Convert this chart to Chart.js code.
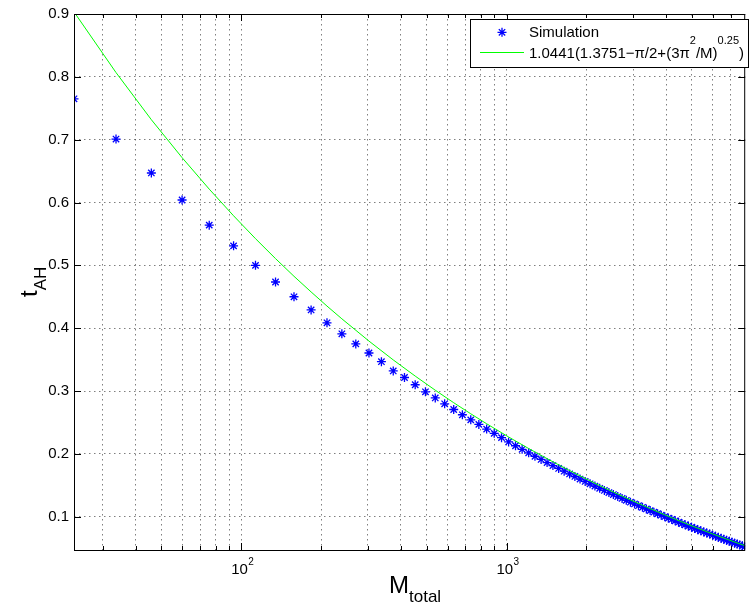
<!DOCTYPE html>
<html>
<head>
<meta charset="utf-8">
<script src="https://cdn.jsdelivr.net/npm/chart.js@4/dist/chart.umd.min.js"></script>
<style>
  html, body { margin: 0; padding: 0; background: #fff; }
  #wrap { width: 751px; height: 605px; position: relative; }
</style>
</head>
<body>
<div id="wrap"><canvas id="c" width="751" height="605"></canvas></div>
<script>
// ---- data ----
const simM = [23.4, 33.7, 45.8, 59.8, 75.7, 93.5, 113.1, 134.6, 158.0, 183.3,
  210.4, 239.4, 270.2, 302.9, 337.5, 374, 412.3, 452.5, 494.6, 538.6,
  584.4, 632.1, 681.6, 733, 786.3, 841.5, 898.5, 957.4, 1018, 1081,
  1145, 1212, 1280, 1350, 1422, 1496, 1572, 1649, 1729, 1810,
  1893, 1979, 2065, 2154, 2245, 2338, 2432, 2528, 2626, 2727,
  2828, 2932, 3038, 3145, 3255, 3366, 3479, 3594, 3711, 3830,
  3950, 4073, 4197, 4323, 4452, 4582, 4713, 4847, 4983, 5120,
  5259, 5401, 5544, 5689, 5835, 5984, 6135, 6287, 6441, 6597,
  6755, 6915, 7077, 7241, 7406, 7574, 7743, 7914];
const simT = [0.765, 0.701, 0.647, 0.604, 0.564, 0.531, 0.500, 0.4735, 0.450, 0.429,
  0.4086, 0.391, 0.375, 0.3605, 0.3467, 0.332, 0.3215, 0.310, 0.2987, 0.289,
  0.2797, 0.2706, 0.2622, 0.2541, 0.2469, 0.2394, 0.2326, 0.2258, 0.2190, 0.2129,
  0.2072, 0.2016, 0.1962, 0.1911, 0.1861, 0.1814, 0.1768, 0.1724, 0.1681, 0.1640,
  0.1599, 0.1561, 0.1523, 0.1487, 0.1451, 0.1418, 0.1384, 0.1352, 0.1320, 0.1290,
  0.1260, 0.1231, 0.1203, 0.1175, 0.1149, 0.1123, 0.1097, 0.1072, 0.1047, 0.1024,
  0.1000, 0.0978, 0.0956, 0.0934, 0.0913, 0.0891, 0.0871, 0.0851, 0.0832, 0.0812,
  0.0794, 0.0775, 0.0758, 0.0739, 0.0723, 0.0705, 0.0688, 0.0672, 0.0656, 0.0640,
  0.0625, 0.0609, 0.0594, 0.0579, 0.0564, 0.0550, 0.0536, 0.0522];
const fitM = [23.4, 33.7, 45.8, 59.8, 75.7, 93.5, 113.1, 134.6, 158, 183.3,
  210.4, 239.4, 302.9, 374, 452.5, 538.6, 632.1, 733, 841.5, 1018,
  1212, 1496, 1810, 2154, 2528, 2932, 3366, 3950, 4582, 5259,
  5984, 6915, 7914];
const fitT = [0.9034, 0.8068, 0.7318, 0.6714, 0.6213, 0.5789, 0.5425, 0.5107, 0.4826, 0.4577,
  0.4352, 0.4149, 0.3795, 0.3495, 0.3238, 0.3013, 0.2814, 0.2638, 0.2479, 0.2269,
  0.2085, 0.1873, 0.1691, 0.1532, 0.1392, 0.1267, 0.1155, 0.1029, 0.0917, 0.0817,
  0.0726, 0.0628, 0.0539];
const yTickValues = [0.1, 0.2, 0.3, 0.4, 0.5, 0.6, 0.7, 0.8, 0.9];
const xTickValues = [30, 40, 50, 60, 70, 80, 90, 100, 200, 300, 400, 500, 600, 700, 800, 900,
  1000, 2000, 3000, 4000, 5000, 6000, 7000];
const xLabelValues = [100, 1000];
const xLabelBases = ['10', '10'];
const xLabelExps = ['2', '3'];
const xRange = [23.4, 7940];
const yRange = [0.047, 0.9];
const seriesNames = ['Simulation', '1.0441(1.3751\u2212\u03c0/2+(3\u03c0', '2', '/M)', '0.25', ')'];
const xTitle = ['M', 'total'];
const yTitle = ['t', 'AH'];

const FONT = '"Liberation Sans", Arial, Helvetica, sans-serif';

function drawStar(ctx, x, y, r) {
  ctx.beginPath();
  ctx.moveTo(x - r, y); ctx.lineTo(x + r, y);
  ctx.moveTo(x, y - r); ctx.lineTo(x, y + r);
  const d = r * Math.SQRT1_2;
  ctx.moveTo(x - d, y - d); ctx.lineTo(x + d, y + d);
  ctx.moveTo(x - d, y + d); ctx.lineTo(x + d, y - d);
  ctx.stroke();
}

const decor = {
  id: 'decor',
  afterDraw(chart) {
    const ctx = chart.ctx;
    const a = chart.chartArea;
    const xs = chart.scales.x, ys = chart.scales.y;
    ctx.save();
    ctx.strokeStyle = '#000';
    ctx.lineWidth = 1;
    // box
    ctx.strokeRect(a.left + 0.5, a.top + 0.5, a.right - a.left - 1, a.bottom - a.top);
    // x ticks (inward, bottom and top)
    ctx.beginPath();
    xTickValues.forEach(v => {
      const px = Math.round(xs.getPixelForValue(v)) + 0.5;
      const len = xLabelValues.includes(v) ? 7 : 4;
      ctx.moveTo(px, a.bottom); ctx.lineTo(px, a.bottom - len);
      ctx.moveTo(px, a.top); ctx.lineTo(px, a.top + len);
    });
    yTickValues.forEach(v => {
      const py = Math.round(ys.getPixelForValue(v)) + 0.5;
      ctx.moveTo(a.left, py); ctx.lineTo(a.left + 7, py);
      ctx.moveTo(a.right, py); ctx.lineTo(a.right - 7, py);
    });
    ctx.stroke();
    // x tick labels with superscripts
    ctx.fillStyle = '#000';
    ctx.textBaseline = 'alphabetic';
    ctx.textAlign = 'left';
    xLabelValues.forEach((v, i) => {
      const px = xs.getPixelForValue(v);
      ctx.font = '15px ' + FONT;
      const wb = ctx.measureText(xLabelBases[i]).width;
      ctx.font = '10px ' + FONT;
      const we = ctx.measureText(xLabelExps[i]).width;
      const x0 = px - (wb + we) / 2 + 1;
      ctx.font = '15px ' + FONT;
      ctx.fillText(xLabelBases[i], x0, 574);
      ctx.font = '10px ' + FONT;
      ctx.fillText(xLabelExps[i], x0 + wb + 0.5, 564.5);
    });
    // x title
    ctx.font = '24px ' + FONT;
    ctx.fillText(xTitle[0], 389, 593);
    const wM = ctx.measureText(xTitle[0]).width;
    ctx.font = '17px ' + FONT;
    ctx.fillText(xTitle[1], 389 + wM, 602);
    // y title (rotated)
    ctx.save();
    ctx.translate(37, 297);
    ctx.rotate(-Math.PI / 2);
    ctx.font = '24px ' + FONT;
    ctx.fillText(yTitle[0], 0, 0);
    const wt = ctx.measureText(yTitle[0]).width;
    ctx.font = '17px ' + FONT;
    ctx.fillText(yTitle[1], wt, 9);
    ctx.restore();
    // legend
    ctx.fillStyle = '#fff';
    ctx.fillRect(470.5, 19.5, 278, 48);
    ctx.strokeStyle = '#000';
    ctx.strokeRect(470.5, 19.5, 278, 48);
    ctx.strokeStyle = '#0000ff';
    ctx.lineWidth = 1.3;
    drawStar(ctx, 502, 32.3, 4.5);
    ctx.strokeStyle = '#00ff00';
    ctx.lineWidth = 1;
    ctx.beginPath(); ctx.moveTo(480, 52.5); ctx.lineTo(524, 52.5); ctx.stroke();
    ctx.fillStyle = '#000';
    ctx.font = '15px ' + FONT;
    ctx.fillText(seriesNames[0], 529, 37);
    let x = 529;
    const parts = [[seriesNames[1], 15, 58.3], [seriesNames[2], 11, 44], [seriesNames[3], 15, 58.3], [seriesNames[4], 11, 44], [seriesNames[5], 15, 58.3]];
    parts.forEach(p => {
      ctx.font = p[1] + 'px ' + FONT;
      ctx.fillText(p[0], x, p[2]);
      x += ctx.measureText(p[0]).width;
    });
    ctx.restore();
  }
};

new Chart(document.getElementById('c'), {
  type: 'scatter',
  data: {
    datasets: [
      {
        label: 'fit',
        data: fitM.map((m, i) => ({ x: m, y: fitT[i] })),
        showLine: true,
        borderColor: '#00ff00',
        borderWidth: 1,
        pointRadius: 0,
        fill: false,
        order: 0
      },
      {
        label: 'Simulation',
        data: simM.map((m, i) => ({ x: m, y: simT[i] })),
        showLine: false,
        pointStyle: 'star',
        pointRadius: 4.5,
        borderColor: '#0000ff',
        backgroundColor: '#0000ff',
        pointBorderWidth: 1.3,
        order: 1
      }
    ]
  },
  options: {
    responsive: false,
    animation: false,
    events: [],
    layout: { padding: { top: 12, right: 2, left: 0, bottom: 0 } },
    plugins: { legend: { display: false }, tooltip: { enabled: false }, title: { display: false } },
    scales: {
      x: {
        type: 'logarithmic',
        min: xRange[0],
        max: xRange[1],
        afterBuildTicks: s => { s.ticks = xTickValues.map(v => ({ value: v })); },
        afterFit: s => { s.height = 55; },
        ticks: { display: false },
        grid: { color: 'rgba(0,0,0,0.5)', lineWidth: 1, drawTicks: false },
        border: { display: false, dash: [1.5, 3.5] }
      },
      y: {
        type: 'linear',
        min: yRange[0],
        max: yRange[1],
        afterBuildTicks: s => { s.ticks = yTickValues.map(v => ({ value: v })); },
        afterFit: s => { s.width = 74; },
        ticks: {
          color: '#000',
          padding: 5,
          font: { family: FONT, size: 15 },
          callback: v => Number(v).toFixed(1)
        },
        grid: { color: 'rgba(0,0,0,0.5)', lineWidth: 1, drawTicks: false },
        border: { display: false, dash: [1.5, 3.5] }
      }
    }
  },
  plugins: [decor]
});
</script>
</body>
</html>
